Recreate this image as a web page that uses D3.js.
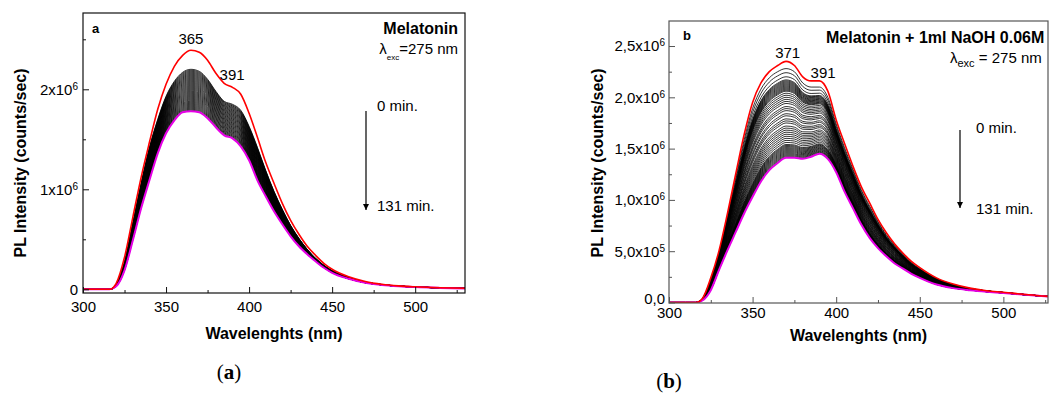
<!DOCTYPE html>
<html>
<head>
<meta charset="utf-8">
<script src="https://cdn.jsdelivr.net/npm/d3@7"></script>
<style>
  body { margin: 0; background: #fff; }
  svg { display: block; font-family: "Liberation Sans", Arial, sans-serif; }
</style>
</head>
<body>
<svg id="chart" width="1049" height="399"></svg>
<script>
// wavelength grid (nm), shared by both panels
const wavelengths = [300, 310, 316, 320, 325, 330, 335, 340, 345, 350, 355, 360, 365, 370, 375, 380, 385, 390, 395,
  400, 405, 410, 415, 420, 425, 430, 435, 440, 445, 450, 460, 470, 480, 490, 500, 515, 530];

// panel a : Melatonin  (intensities in units of 10^6 counts/sec)
const redA = [0, 0, 0, 0.06, 0.32, 0.72, 1.12, 1.47, 1.80, 2.05, 2.23, 2.34, 2.39, 2.37, 2.29, 2.16, 2.06, 2.02, 1.95,
  1.76, 1.52, 1.27, 1.06, 0.86, 0.69, 0.55, 0.43, 0.34, 0.26, 0.20, 0.125, 0.078, 0.050, 0.034, 0.025, 0.016, 0.010];
const topA = [0, 0, 0, 0.05, 0.27, 0.66, 1.06, 1.42, 1.70, 1.93, 2.08, 2.17, 2.20, 2.18, 2.10, 1.98, 1.88, 1.85, 1.79,
  1.63, 1.42, 1.19, 0.98, 0.80, 0.64, 0.51, 0.40, 0.31, 0.24, 0.185, 0.115, 0.072, 0.047, 0.032, 0.023, 0.015, 0.010];
const magA = [0, 0, 0, 0.03, 0.19, 0.49, 0.81, 1.09, 1.36, 1.56, 1.69, 1.77, 1.78, 1.77, 1.71, 1.62, 1.54, 1.51, 1.43,
  1.29, 1.09, 0.93, 0.78, 0.65, 0.53, 0.43, 0.35, 0.28, 0.215, 0.165, 0.105, 0.065, 0.044, 0.031, 0.022, 0.014, 0.009];
// peak (365 nm) of each intermediate spectrum
const peaksA = [2.20, 2.19, 2.18, 2.17, 2.16, 2.15, 2.14, 2.13, 2.12, 2.11, 2.10, 2.09, 2.08, 2.07, 2.06, 2.05, 2.04,
  2.03, 2.02, 2.01, 2.00, 1.99, 1.98, 1.97, 1.96, 1.95, 1.94, 1.93, 1.92, 1.91, 1.90, 1.89, 1.88, 1.87, 1.86, 1.85,
  1.84, 1.83, 1.82, 1.81, 1.80, 1.79];

// panel b : Melatonin + NaOH
const redB = [0, 0, 0, 0.04, 0.24, 0.51, 0.87, 1.26, 1.64, 1.95, 2.14, 2.25, 2.31, 2.35, 2.31, 2.20, 2.16, 2.16, 2.06,
  1.78, 1.55, 1.33, 1.13, 0.97, 0.81, 0.68, 0.57, 0.48, 0.40, 0.34, 0.24, 0.18, 0.14, 0.115, 0.10, 0.075, 0.055];
const topB = [0, 0, 0, 0.04, 0.23, 0.49, 0.84, 1.22, 1.59, 1.89, 2.08, 2.19, 2.25, 2.28, 2.25, 2.14, 2.10, 2.10, 2.00,
  1.74, 1.51, 1.30, 1.10, 0.94, 0.79, 0.66, 0.56, 0.47, 0.39, 0.33, 0.235, 0.175, 0.138, 0.113, 0.098, 0.074, 0.055];
const magB = [0, 0, 0, 0.02, 0.12, 0.32, 0.51, 0.69, 0.87, 1.03, 1.18, 1.29, 1.36, 1.41, 1.41, 1.40, 1.42, 1.45, 1.40,
  1.27, 1.08, 0.92, 0.76, 0.63, 0.53, 0.45, 0.38, 0.33, 0.28, 0.24, 0.175, 0.14, 0.12, 0.105, 0.093, 0.072, 0.055];
// peak (370 nm) of each intermediate spectrum
const peaksB = [2.28, 2.24, 2.20, 2.17, 2.16, 2.15, 2.14, 2.13, 2.12, 2.11, 2.10, 2.09, 2.08, 2.07, 2.06, 2.04, 2.02,
  2.00, 1.98, 1.96, 1.94, 1.91, 1.89, 1.87, 1.84, 1.82, 1.79, 1.77, 1.75, 1.72, 1.70, 1.68, 1.66, 1.64, 1.62, 1.60,
  1.58, 1.56, 1.54, 1.53, 1.52, 1.51, 1.50, 1.49, 1.48, 1.47, 1.46, 1.45, 1.44, 1.43, 1.42];

const xTicks = [300, 350, 400, 450, 500];
const xMinor = [325, 375, 425, 475, 525];

const svg = d3.select("#chart");

function drawPanel(o) {
  const x = d3.scaleLinear().domain(o.xDomain).range([o.left, o.right]);
  const y = d3.scaleLinear().domain(o.yDomain).range([o.bottom, o.top]);
  const g = svg.append("g");

  g.append("clipPath").attr("id", o.id + "clip")
    .append("rect").attr("x", o.left).attr("y", o.top)
    .attr("width", o.right - o.left).attr("height", o.bottom - o.top);

  const line = d3.line()
    .x((d, i) => x(wavelengths[i]))
    .y(d => y(d))
    .curve(d3.curveMonotoneX);

  const plot = g.append("g").attr("clip-path", `url(#${o.id}clip)`);

  // family of spectra between the first black one and the last (magenta) one
  const k = wavelengths.indexOf(o.peakAt);
  o.peaks.forEach(p => {
    const t = (p - o.mag[k]) / (o.topBlack[k] - o.mag[k]);
    const vals = o.mag.map((m, i) => m + t * (o.topBlack[i] - m));
    plot.append("path").attr("d", line(vals))
      .attr("fill", "none").attr("stroke", "#000").attr("stroke-width", o.blackWidth);
  });
  plot.append("path").attr("d", line(o.mag))
    .attr("fill", "none").attr("stroke", "#e600e6").attr("stroke-width", 2);
  plot.append("path").attr("d", line(o.red))
    .attr("fill", "none").attr("stroke", "#ff0000").attr("stroke-width", 1.6);

  // x axis
  const xa = g.append("g").attr("transform", `translate(0,${o.bottom})`)
    .call(d3.axisBottom(x).tickValues(xTicks).tickSize(-6).tickPadding(o.xPad));
  xa.attr("font-family", null).attr("font-size", null);
  xa.select(".domain").remove();
  xa.selectAll("text").attr("font-size", 15).attr("fill", "#000");
  g.append("g").attr("transform", `translate(0,${o.bottom})`)
    .call(d3.axisBottom(x).tickValues(xMinor.filter(v => v < o.xDomain[1])).tickSize(-3).tickFormat(""))
    .select(".domain").remove();

  // y axis
  const ya = g.append("g").attr("transform", `translate(${o.left},0)`)
    .call(d3.axisLeft(y).tickValues(o.yTicks).tickSize(-6).tickPadding(o.yPad));
  ya.attr("font-family", null).attr("font-size", null);
  ya.select(".domain").remove();
  ya.selectAll("text").attr("font-size", 15).attr("fill", "#000")
    .each(function(d) {
      const lab = o.yLabel(d);
      const t = d3.select(this).text(null);
      t.append("tspan").text(lab[0]);
      if (lab[1]) t.append("tspan").attr("dy", "-0.5em").attr("font-size", 10).text(lab[1]);
    });
  g.append("g").attr("transform", `translate(${o.left},0)`)
    .call(d3.axisLeft(y).tickValues(o.yMinor).tickSize(-3).tickFormat(""))
    .select(".domain").remove();
  g.selectAll(".tick line").attr("stroke", o.frame);

  // frame
  g.append("rect").attr("x", o.left).attr("y", o.top)
    .attr("width", o.right - o.left).attr("height", o.bottom - o.top)
    .attr("fill", "none").attr("stroke", o.frame).attr("stroke-width", 1.2);

  // axis titles
  g.append("text").attr("x", (o.left + o.right) / 2).attr("y", o.xTitleY)
    .attr("text-anchor", "middle").attr("font-weight", "bold").attr("font-size", 16)
    .text("Wavelenghts (nm)");
  g.append("text").attr("transform", `translate(${o.yTitleX},${o.yTitleMid}) rotate(-90)`)
    .attr("text-anchor", "middle").attr("font-weight", "bold").attr("font-size", 16)
    .text("PL Intensity (counts/sec)");

  return { g, x, y };
}

// ---------- panel a ----------
const pa = drawPanel({
  id: "a", left: 83, right: 465, top: 13, bottom: 293,
  xDomain: [300, 530], yDomain: [-0.037, 2.763],
  red: redA, topBlack: topA, mag: magA, peaks: peaksA, peakAt: 365, blackWidth: 0.8,
  yTicks: [0, 1, 2], yMinor: [0.5, 1.5, 2.5],
  yLabel: d => d === 0 ? ["0"] : [d + "x10", "6"],
  xPad: 8, yPad: 5, frame: "#111",
  xTitleY: 339, yTitleX: 26, yTitleMid: 163
});
pa.g.append("text").attr("x", 92).attr("y", 33).attr("font-weight", "bold").attr("font-size", 13).text("a");
pa.g.append("text").attr("x", pa.x(365)).attr("y", 44).attr("text-anchor", "middle").attr("font-size", 15).text("365");
pa.g.append("text").attr("x", pa.x(391) - 2).attr("y", 80).attr("text-anchor", "middle").attr("font-size", 15).text("391");
pa.g.append("text").attr("x", 458).attr("y", 34).attr("text-anchor", "end").attr("font-weight", "bold")
  .attr("font-size", 16).text("Melatonin");
const la = pa.g.append("text").attr("x", 458).attr("y", 54).attr("text-anchor", "end").attr("font-size", 15);
la.append("tspan").text("λ");
la.append("tspan").attr("dy", 6).attr("font-size", 8).text("exc");
la.append("tspan").attr("dy", -6).text("=275 nm");

// ---------- panel b ----------
const pb = drawPanel({
  id: "b", left: 669, right: 1048, top: 21, bottom: 303,
  xDomain: [300, 526.7], yDomain: [-0.005, 2.744],
  red: redB, topBlack: topB, mag: magB, peaks: peaksB, peakAt: 370, blackWidth: 0.8,
  yTicks: [0, 0.5, 1, 1.5, 2, 2.5], yMinor: [0.25, 0.75, 1.25, 1.75, 2.25],
  yLabel: d => d === 0 ? ["0,0"] : d === 0.5 ? ["5,0x10", "5"] : [d3.format(".1f")(d).replace(".", ",") + "x10", "6"],
  xPad: 4, yPad: 4, frame: "#555",
  xTitleY: 341, yTitleX: 603, yTitleMid: 163
});
// lift the "0,0" label a little so it clears the "300" below it
pb.g.selectAll(".tick text").filter(d => d === 0).attr("dy", "0.1em");
pb.g.append("text").attr("x", 683).attr("y", 40).attr("font-weight", "bold").attr("font-size", 13).text("b");
pb.g.append("text").attr("x", pb.x(371)).attr("y", 58).attr("text-anchor", "middle").attr("font-size", 15).text("371");
pb.g.append("text").attr("x", pb.x(391) + 2).attr("y", 78).attr("text-anchor", "middle").attr("font-size", 15).text("391");
pb.g.append("text").attr("x", 826).attr("y", 43).attr("font-weight", "bold")
  .attr("font-size", 16).text("Melatonin + 1ml NaOH 0.06M");
const lb = pb.g.append("text").attr("x", 950).attr("y", 63).attr("font-size", 15);
lb.append("tspan").text("λ");
lb.append("tspan").attr("dy", 4).attr("font-size", 11).text("exc");
lb.append("tspan").attr("dy", -4).text(" = 275 nm");

// time arrows
svg.append("defs").append("marker").attr("id", "arrow")
  .attr("viewBox", "0 0 10 10").attr("refX", 10).attr("refY", 5)
  .attr("markerWidth", 5).attr("markerHeight", 5).attr("orient", "auto")
  .append("path").attr("d", "M0,0 L10,5 L0,10 z").attr("fill", "#000");

[[pa.g, 366, 111, 210, 377, 111, 211], [pb.g, 960, 130, 208, 976, 133, 214]].forEach(([g, ax, y0, y1, tx, t0, t1]) => {
  g.append("line").attr("x1", ax).attr("x2", ax).attr("y1", y0).attr("y2", y1)
    .attr("stroke", "#000").attr("stroke-width", 1.2).attr("marker-end", "url(#arrow)");
  g.append("text").attr("x", tx).attr("y", t0).attr("font-size", 15).text("0 min.");
  g.append("text").attr("x", tx).attr("y", t1).attr("font-size", 15).text("131 min.");
});

// captions
[["a", 229, 379], ["b", 669, 388]].forEach(([c, cx, cy]) => {
  const t = svg.append("text").attr("x", cx).attr("y", cy).attr("text-anchor", "middle")
    .attr("font-family", "'Liberation Serif', serif").attr("font-size", 21);
  t.append("tspan").text("(");
  t.append("tspan").attr("font-weight", "bold").text(c);
  t.append("tspan").text(")");
});
</script>
</body>
</html>
